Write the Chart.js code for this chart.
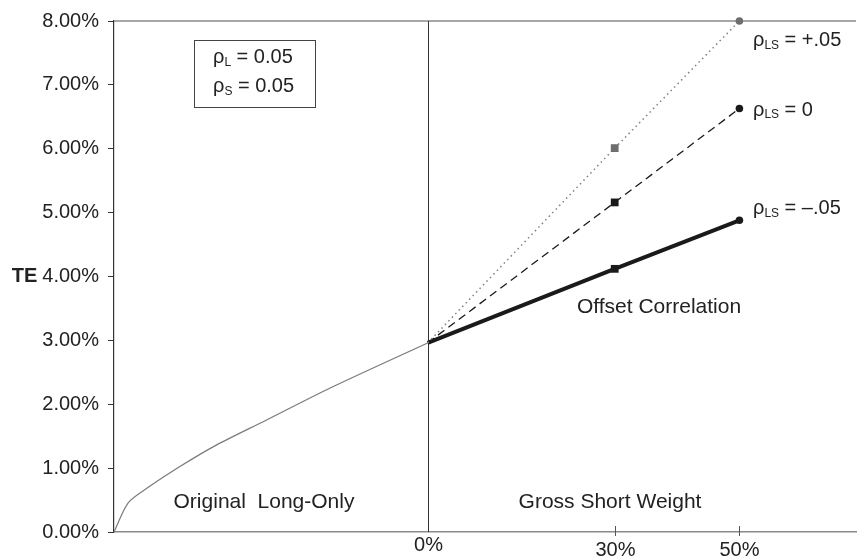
<!DOCTYPE html>
<html>
<head>
<meta charset="utf-8">
<script src="https://cdn.jsdelivr.net/npm/chart.js@4"></script>
<style>
  html, body { margin: 0; padding: 0; background: #ffffff; }
  #wrap { width: 860px; height: 558px; }
</style>
</head>
<body>
<div id="wrap"><canvas id="c" width="860" height="558"></canvas></div>
<script>
// ---- data ----
const longOnlyX  = [-50.3, -48.0, -45.1, -39.8, -33.9, -25.9, -15.3, 0];
const longOnlyTE = [0.00, 0.46, 0.68, 1.02, 1.36, 1.75, 2.27, 2.96];

const shortWeights = [0, 30, 50];
const tePlus  = [2.96, 6.01, 8.00];   // rho_LS = +.05
const teZero  = [2.96, 5.16, 6.63];   // rho_LS = 0
const teMinus = [2.96, 4.12, 4.88];   // rho_LS = -.05

const yTicks = [0, 1, 2, 3, 4, 5, 6, 7, 8];
const xTickValues = [0, 30, 50];
const xTickLabels = ['0%', '30%', '50%'];
const seriesLabels = ['+.05', '0', '\u2013.05'];

const FONT = '"Liberation Sans", Arial, Helvetica, sans-serif';

function pts(xs, ys) { return xs.map((x, i) => ({ x: x, y: ys[i] })); }

function drawRho(ctx, x, y, sub, rest, size) {
  ctx.textAlign = 'left';
  ctx.textBaseline = 'alphabetic';
  ctx.font = size + 'px ' + FONT;
  ctx.fillText('\u03C1', x, y);
  let w = ctx.measureText('\u03C1').width;
  ctx.font = Math.round(size * 0.58) + 'px ' + FONT;
  ctx.fillText(sub, x + w, y + size * 0.14);
  let w2 = ctx.measureText(sub).width;
  ctx.font = size + 'px ' + FONT;
  ctx.fillText(' ' + rest, x + w + w2, y);
}

const extras = {
  id: 'extras',
  beforeDatasetsDraw(chart) {
    const ctx = chart.ctx, a = chart.chartArea, xs = chart.scales.x;
    ctx.save();
    // top border line
    ctx.strokeStyle = '#8a8a8a'; ctx.lineWidth = 1.5;
    ctx.beginPath(); ctx.moveTo(a.left, a.top); ctx.lineTo(a.right, a.top); ctx.stroke();
    // vertical divider at 0%
    const x0 = Math.round(xs.getPixelForValue(0)) + 0.5;
    ctx.strokeStyle = '#333'; ctx.lineWidth = 1;
    ctx.beginPath(); ctx.moveTo(x0, a.top); ctx.lineTo(x0, a.bottom); ctx.stroke();
    ctx.restore();
  },
  afterDraw(chart) {
    const ctx = chart.ctx, a = chart.chartArea, xs = chart.scales.x, ys = chart.scales.y;
    ctx.save();
    ctx.fillStyle = '#222';
    // x tick marks & labels
    ctx.strokeStyle = '#555'; ctx.lineWidth = 1;
    xTickValues.forEach((v, i) => {
      const px = Math.round(xs.getPixelForValue(v)) + 0.5;
      if (v !== 0) {
        ctx.beginPath(); ctx.moveTo(px, a.bottom - 6); ctx.lineTo(px, a.bottom + 4); ctx.stroke();
      }
      ctx.font = '20px ' + FONT;
      ctx.textAlign = 'center'; ctx.textBaseline = 'middle';
      ctx.fillText(xTickLabels[i], px, v === 0 ? 545 : 550);
    });
    // TE axis label
    ctx.font = '20px ' + FONT;
    const wTick = ctx.measureText('4.00%').width;
    ctx.font = 'bold 20px ' + FONT;
    ctx.textAlign = 'right'; ctx.textBaseline = 'middle';
    ctx.fillText('TE', 99 - wTick - 5, ys.getPixelForValue(4));
    // region labels
    ctx.font = '21px ' + FONT;
    ctx.textAlign = 'center'; ctx.textBaseline = 'middle';
    ctx.fillText('Original  Long-Only', 264, 502);
    ctx.fillText('Gross Short Weight', 610, 502);
    ctx.fillText('Offset Correlation', 659, 307);
    // legend box
    ctx.strokeStyle = '#444'; ctx.lineWidth = 1;
    ctx.strokeRect(194.5, 40.5, 121, 67);
    drawRho(ctx, 213, 63, 'L', '= 0.05', 20);
    drawRho(ctx, 213, 92, 'S', '= 0.05', 20);
    // series labels at line ends
    const ends = [tePlus, teZero, teMinus];
    const offs = [18, 0, -13];
    ends.forEach((arr, i) => {
      const py = ys.getPixelForValue(arr[arr.length - 1]);
      drawRho(ctx, 753, py + offs[i] + 7, 'LS', '= ' + seriesLabels[i], 20);
    });
    ctx.restore();
  }
};

const ctx = document.getElementById('c').getContext('2d');
new Chart(ctx, {
  type: 'line',
  data: {
    datasets: [
      {
        label: 'Original Long-Only',
        data: pts(longOnlyX, longOnlyTE),
        borderColor: '#7a7a7a', borderWidth: 1.2,
        pointRadius: 0, tension: 0.3, clip: false
      },
      {
        label: 'rho_LS = +.05',
        data: pts(shortWeights, tePlus),
        borderColor: '#808080', borderWidth: 1.5, borderDash: [1.5, 3.5],
        pointStyle: ['circle', 'rect', 'circle'], pointRadius: [0, 5.5, 3.8],
        pointBackgroundColor: '#6e6e6e', pointBorderColor: '#6e6e6e', pointBorderWidth: 0,
        tension: 0, clip: false
      },
      {
        label: 'rho_LS = 0',
        data: pts(shortWeights, teZero),
        borderColor: '#1a1a1a', borderWidth: 1.3, borderDash: [8, 5],
        pointStyle: ['circle', 'rect', 'circle'], pointRadius: [0, 5.5, 3.8],
        pointBackgroundColor: '#1a1a1a', pointBorderColor: '#1a1a1a', pointBorderWidth: 0,
        tension: 0, clip: false
      },
      {
        label: 'rho_LS = -.05',
        data: pts(shortWeights, teMinus),
        borderColor: '#1a1a1a', borderWidth: 4,
        pointStyle: ['circle', 'rect', 'circle'], pointRadius: [0, 5.5, 3.8],
        pointBackgroundColor: '#1a1a1a', pointBorderColor: '#1a1a1a', pointBorderWidth: 0,
        tension: 0, clip: false
      }
    ]
  },
  options: {
    responsive: false,
    animation: false,
    devicePixelRatio: 1,
    layout: { padding: { top: 21, right: 1, bottom: 0, left: 0 } },
    plugins: { legend: { display: false }, tooltip: { enabled: false } },
    scales: {
      x: {
        type: 'linear', min: -50.3, max: 68.7,
        grid: { display: false },
        border: { color: '#8a8a8a', width: 1.5 },
        ticks: { display: false },
        afterFit(s) { s.height = 26; }
      },
      y: {
        type: 'linear', min: 0, max: 8,
        afterBuildTicks(s) { s.ticks = yTicks.map(v => ({ value: v })); },
        grid: { drawOnChartArea: false, drawTicks: true, tickLength: 6, color: '#333' },
        border: { color: '#333', width: 1.2 },
        ticks: {
          padding: 9, color: '#222',
          font: { family: FONT, size: 20 },
          callback: v => v.toFixed(2) + '%'
        },
        afterFit(s) { s.width = 114; }
      }
    }
  },
  plugins: [extras]
});
</script>
</body>
</html>
